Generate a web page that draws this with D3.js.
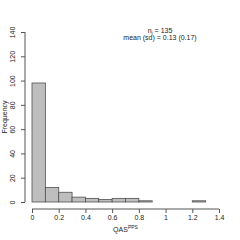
<!DOCTYPE html>
<html>
<head>
<meta charset="utf-8">
<script src="https://cdn.jsdelivr.net/npm/d3@7"></script>
<style>
body { margin: 0; background: #fff; }
text { font-family: "Liberation Sans", Arial, sans-serif; fill: #222; }
</style>
</head>
<body>
<div class="hist"></div>
<script>
// histogram bins (width 0.1) and counts
var binStarts = [0, 0.1, 0.2, 0.3, 0.4, 0.5, 0.6, 0.7, 0.8, 0.9, 1.0, 1.1, 1.2],
counts = [98, 12, 8, 4, 3, 2, 3, 3, 1, 0, 0, 0, 1],
binWidth = 0.1,
xTicks = [0, 0.2, 0.4, 0.6, 0.8, 1, 1.2, 1.4],
yTicks = [0, 20, 40, 60, 80, 100, 120, 140],
nLabel = "135",
meanLabel = "mean (sd) = 0.13 (0.17)";

var width = 240, height = 240;

var svg = d3.select("div.hist")
	.append("svg")
	.attr("width", width)
	.attr("height", height);

var x = d3.scaleLinear().domain([0, 1.4]).range([32, 219]);
var y = d3.scaleLinear().domain([0, 140]).range([202, 32]);

var axisCol = "#555";

// bars
svg.selectAll(".bar")
	.data(binStarts)
	.enter().append("rect")
	.attr("class", "bar")
	.attr("x", function(d) { return x(d); })
	.attr("width", function(d) { return x(d + binWidth) - x(d); })
	.attr("y", function(d, i) { return y(counts[i]); })
	.attr("height", function(d, i) { return y(0) - y(counts[i]); })
	.attr("fill", "#bebebe")
	.attr("stroke", "#505050")
	.attr("stroke-width", 0.8);

// x axis (R style, offset below bars)
var xAxis = svg.append("g")
	.attr("transform", "translate(0,209)")
	.call(d3.axisBottom(x).tickValues(xTicks).tickSize(4).tickSizeOuter(0)
		.tickFormat(function(d) { return d3.format("")(d); }));
xAxis.select(".domain").attr("stroke", axisCol).attr("d", "M" + x(0) + ",0H" + x(1.4));
xAxis.selectAll(".tick line").attr("stroke", axisCol);
xAxis.selectAll(".tick text")
	.attr("y", 6)
	.attr("font-size", "7px")
	.attr("font-family", "Liberation Sans, Arial, sans-serif")
	.attr("fill", "#222");

// y axis
var yAxis = svg.append("g")
	.attr("transform", "translate(25,0)")
	.call(d3.axisLeft(y).tickValues(yTicks).tickSize(4).tickSizeOuter(0));
yAxis.select(".domain").attr("stroke", axisCol).attr("d", "M0," + y(0) + "V" + y(140));
yAxis.selectAll(".tick line").attr("stroke", axisCol);
yAxis.selectAll(".tick text")
	.attr("x", null).attr("dy", null)
	.attr("transform", "translate(-10,0) rotate(-90)")
	.attr("text-anchor", "middle")
	.attr("font-size", "7px")
	.attr("font-family", "Liberation Sans, Arial, sans-serif")
	.attr("fill", "#222");

// axis titles
var xTitle = svg.append("text")
	.attr("x", 125.5)
	.attr("y", 232)
	.attr("text-anchor", "middle")
	.attr("font-size", "7px");
xTitle.append("tspan").text("QAS");
xTitle.append("tspan").attr("dy", -3).attr("font-size", "5px").text("PPS");

svg.append("text")
	.attr("transform", "translate(7,117) rotate(-90)")
	.attr("text-anchor", "middle")
	.attr("font-size", "7px")
	.text("Frequency");

// annotation
var nText = svg.append("text")
	.attr("x", 160)
	.attr("y", 33)
	.attr("text-anchor", "middle")
	.attr("font-size", "7px");
nText.append("tspan").text("n");
nText.append("tspan").attr("dy", 1.5).attr("font-size", "5px").text("i");
nText.append("tspan").attr("dy", -1.5).text(" = " + nLabel);

svg.append("text")
	.attr("x", 160)
	.attr("y", 40)
	.attr("text-anchor", "middle")
	.attr("font-size", "7px")
	.text(meanLabel);
</script>
</body>
</html>
